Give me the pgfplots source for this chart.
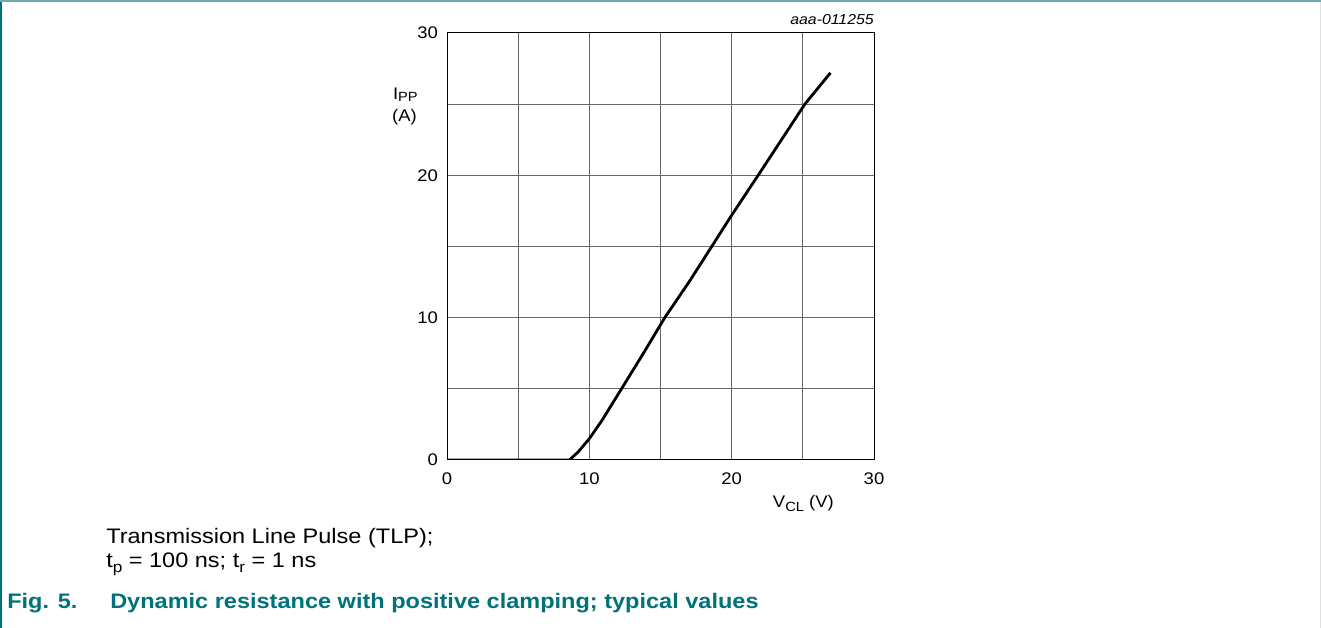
\documentclass[border=0pt]{standalone}
\usepackage{pgfplots}
\pgfplotsset{compat=1.18}
\usepackage{fontspec}
\setmainfont[FakeStretch=1.1]{Liberation Sans}
\newfontfamily\capfont[FakeStretch=1.12]{Liberation Sans}
\definecolor{nxpteal}{RGB}{0,114,122}
\definecolor{lightteal}{RGB}{110,170,172}
\begin{document}
\begin{tikzpicture}
\begin{scope}[x=0.75pt,y=0.75pt]
\path[use as bounding box] (0,0) rectangle (1321,628);
\fill[nxpteal] (0,0) rectangle (2,628);
\fill[lightteal] (0,626) rectangle (1321,628);
\fill[black!12] (1320,0) rectangle (1321,626);
\end{scope}
\begin{axis}[
  at={(335.25pt,126pt)}, anchor=south west,
  scale only axis, width=320.25pt, height=320.25pt,
  xmin=0, xmax=30, ymin=0, ymax=30,
  xtick={0,10,20,30}, ytick={0,10,20,30},
  minor xtick={5,15,25}, minor ytick={5,15,25},
  grid=both,
  major grid style={black!60, line width=0.75pt},
  minor grid style={black!60, line width=0.75pt},
  major tick length=0pt, minor tick length=0pt,
  axis line style={black, line width=0.75pt},
  tick label style={font=\fontsize{12.6}{14}\selectfont},
  /pgf/number format/assume math mode=true,
  xticklabel style={yshift=-6pt},
  yticklabel style={xshift=-3.2pt},
]
\addplot[black, line width=2.1pt, line join=round] coordinates {
(0,0) (8.6,0) (9.2,0.55) (10,1.5) (10.9,2.8) (12.26,5) (13.8,7.5) (15.3,10)
(17,12.5) (18.6,15) (20,17.2) (21.86,20) (23.5,22.5) (25.14,25) (26.94,27.2)
};
\end{axis}
\begin{scope}[x=0.75pt,y=0.75pt]
\node[anchor=base east, inner sep=0, font=\fontsize{10.8}{13}\selectfont\itshape] at (874,603) {aaa-011255};
\node[anchor=base east, inner sep=0, font=\fontsize{12.6}{14}\selectfont] at (418,528) {I\raisebox{-0.2ex}{\fontsize{10}{12}\selectfont PP}};
\node[anchor=base east, inner sep=0, font=\fontsize{12.6}{14}\selectfont] at (417,506) {(A)};
\node[anchor=base west, inner sep=0, font=\fontsize{12.6}{14}\selectfont] at (772.7,120) {V\raisebox{-0.35ex}{\fontsize{10}{12}\selectfont CL} (V)};
\node[anchor=base west, inner sep=0, font=\fontsize{15.75}{18}\capfont] at (106,84) {Transmission Line Pulse (TLP);};
\node[anchor=base west, inner sep=0, font=\fontsize{15.75}{18}\capfont] at (106,60) {t\raisebox{-0.4ex}{\fontsize{11.5}{13}\capfont p} = 100 ns; t\raisebox{-0.4ex}{\fontsize{11.5}{13}\capfont r} = 1 ns};
\node[anchor=base west, inner sep=0, font=\fontsize{15.75}{18}\capfont\bfseries, text=nxpteal] at (7,19) {Fig. 5.};
\node[anchor=base west, inner sep=0, font=\fontsize{15.75}{18}\capfont\bfseries, text=nxpteal] at (110,19) {Dynamic resistance with positive clamping; typical values};
\end{scope}
\end{tikzpicture}
\end{document}
